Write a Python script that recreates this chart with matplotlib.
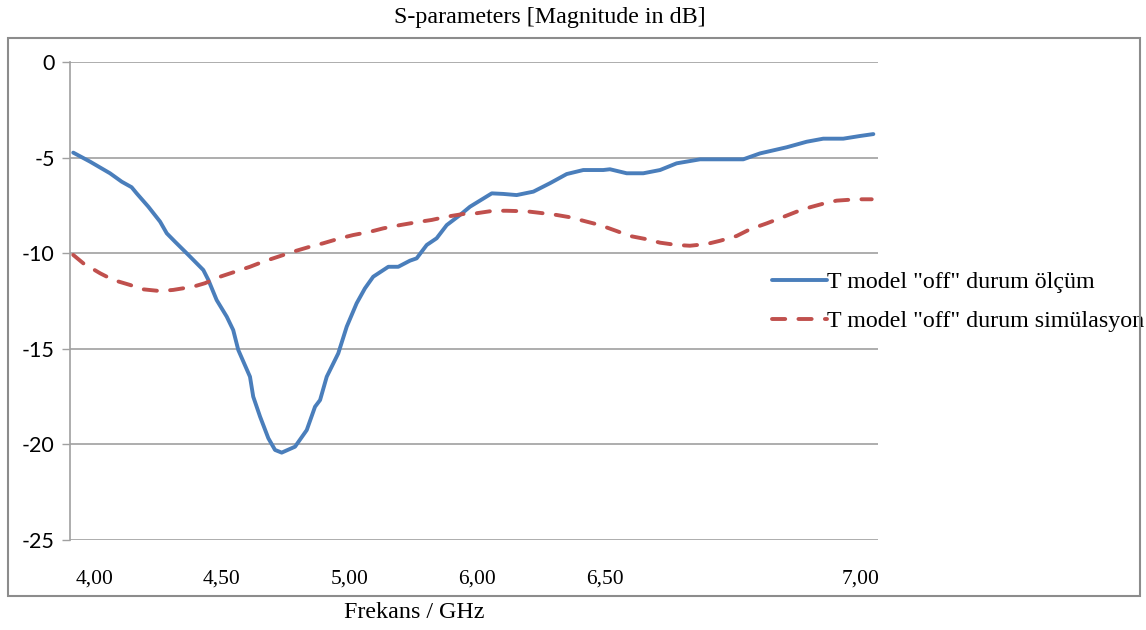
import matplotlib.pyplot as plt
from matplotlib.patches import Rectangle

# category position along the frequency axis (0..400) and magnitude in dB
olcum_pos = [1.6, 9.9, 19.8, 25.6, 30.5, 33.0, 38.8, 44.6, 47.9, 52.0, 58.6, 66.0,
             68.5, 72.6, 77.6, 80.8, 83.3, 89.1, 90.7, 94.1, 98.2, 101.5, 104.8,
             111.4, 117.2, 121.3, 123.8, 127.1, 132.8, 137.0, 141.9, 146.0, 150.1,
             157.6, 162.5, 168.3, 171.6, 176.6, 181.5, 186.5, 193.1, 198.0, 208.8,
             214.5, 221.1, 229.4, 237.6, 245.9, 254.1, 264.0, 267.3, 275.6, 283.8,
             292.1, 300.3, 311.9, 320.1, 333.3, 341.6, 354.8, 364.7, 372.9, 382.8,
             391.1, 397.7]
olcum_db = [-4.74, -5.21, -5.82, -6.26, -6.55, -6.87, -7.57, -8.35, -8.96, -9.40,
            -10.09, -10.88, -11.40, -12.45, -13.32, -14.02, -15.06, -16.46, -17.50,
            -18.55, -19.68, -20.29, -20.43, -20.12, -19.25, -18.03, -17.68, -16.46,
            -15.24, -13.84, -12.62, -11.84, -11.23, -10.71, -10.71, -10.39, -10.27,
            -9.57, -9.22, -8.53, -8.00, -7.57, -6.87, -6.90, -6.96, -6.78, -6.34,
            -5.86, -5.65, -5.65, -5.61, -5.82, -5.82, -5.65, -5.30, -5.09, -5.09,
            -5.09, -4.78, -4.46, -4.17, -4.01, -4.01, -3.87, -3.77]

sim_pos = [1.6, 6.6, 14.9, 21.4, 29.7, 36.3, 44.6, 51.1, 61.0, 66.8, 74.3, 81.7,
           89.1, 95.7, 104.0, 110.5, 118.8, 125.4, 133.7, 140.2, 148.5, 155.1,
           163.4, 171.6, 179.1, 186.5, 194.7, 201.3, 209.6, 216.2, 226.1, 231.8,
           240.9, 247.5, 255.8, 262.4, 270.6, 277.2, 285.5, 292.1, 300.3, 306.9,
           315.2, 321.8, 330.0, 336.6, 344.9, 351.5, 359.7, 366.3, 374.6, 379.6,
           389.5, 396.9]
sim_db = [-10.09, -10.53, -11.05, -11.40, -11.66, -11.89, -11.98, -11.92, -11.75,
          -11.57, -11.23, -10.97, -10.71, -10.44, -10.15, -9.92, -9.66, -9.48,
          -9.22, -9.05, -8.88, -8.70, -8.53, -8.38, -8.26, -8.09, -7.95, -7.91,
          -7.78, -7.78, -7.81, -7.88, -8.00, -8.12, -8.35, -8.53, -8.84, -9.10,
          -9.27, -9.45, -9.57, -9.61, -9.52, -9.35, -9.10, -8.75, -8.44, -8.17,
          -7.83, -7.60, -7.36, -7.25, -7.18, -7.18]

tick_pos = [12.0, 75.2, 138.4, 201.6, 264.8, 391.2]
tick_labels = ['4,00', '4,50', '5,00', '6,00', '6,50', '7,00']
y_ticks = [0, -5, -10, -15, -20, -25]

W, H = 1146, 630
fig = plt.figure(figsize=(W / 100, H / 100), dpi=100)
ax = fig.add_axes([70 / W, 1 - 540 / H, 808 / W, 478 / H])

grid_c = '#A0A0A0'
ax.plot(olcum_pos, olcum_db, color='#4A7EBB', lw=2.8, solid_capstyle='round',
        solid_joinstyle='round', label='T model "off" durum ölçüm')
ax.plot(sim_pos, sim_db, color='#C0504D', lw=2.8, dashes=(3.4, 3.4),
        dash_capstyle='round', label='T model "off" durum simülasyon')

ax.set_xlim(0, 400)
ax.set_ylim(-25, 0)
ax.set_yticks(y_ticks)
ax.set_yticklabels([str(v) for v in y_ticks], family='Lato', fontsize=15.5)
ax.set_xticks(tick_pos)
ax.set_xticklabels(tick_labels, family='Liberation Serif', fontsize=15.5)
ax.tick_params(axis='y', length=6, color=grid_c, width=1, pad=5)
ax.tick_params(axis='x', length=0, pad=21)
ax.grid(axis='y', color=grid_c, lw=1.2)
ax.set_axisbelow(True)
for s in ['top', 'right', 'bottom']:
    ax.spines[s].set_visible(False)
ax.spines['left'].set_color(grid_c)
ax.spines['left'].set_linewidth(1.2)

leg = ax.legend(loc='center left', bbox_to_anchor=(772 / W, 1 - 302 / H),
                bbox_transform=fig.transFigure, frameon=False,
                prop={'family': 'Liberation Serif', 'size': 17.3},
                handlelength=2.3, handletextpad=0.0, labelspacing=0.72,
                borderaxespad=0, borderpad=0)

# outer chart frame
fig.patches.append(Rectangle((8 / W, 1 - 596 / H), 1132 / W, 558 / H,
                             transform=fig.transFigure, fill=False,
                             edgecolor='#8C8C8C', lw=1.5))

fig.text(550 / W, 1 - 18 / H, 'S-parameters [Magnitude in dB]', ha='center',
         va='center', family='Liberation Serif', fontsize=17.3)
fig.text(414 / W, 1 - 612 / H, 'Frekans / GHz', ha='center', va='center',
         family='Liberation Serif', fontsize=17.3)

fig.savefig('out.png', dpi=100)
